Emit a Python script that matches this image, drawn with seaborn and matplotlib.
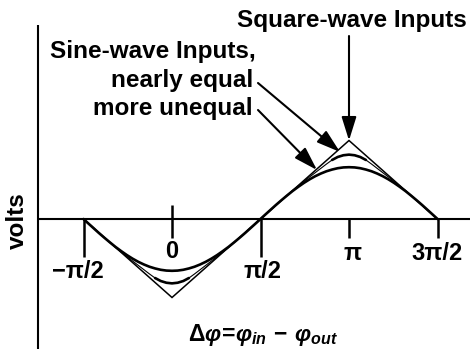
import numpy as np
import pandas as pd
import matplotlib
matplotlib.use("Agg")
import matplotlib.pyplot as plt
import seaborn as sns

sns.set_theme(style="white")
plt.rcParams["font.family"] = ["Liberation Sans", "DejaVu Sans"]
plt.rcParams["mathtext.fontset"] = "custom"
plt.rcParams["mathtext.it"] = "Liberation Sans:italic:bold"
plt.rcParams["mathtext.rm"] = "Liberation Sans:bold"

PI = np.pi

# Phase-detector output vs. phase difference (volts normalised to square-wave peak)
tick_pos = [-PI / 2, 0.0, PI / 2, PI, 3 * PI / 2]
tick_labels = ["\u2212\u03c0/2", "0", "\u03c0/2", "\u03c0", "3\u03c0/2"]

square_x = [-PI / 2, 0.0, PI / 2, PI, 3 * PI / 2]
square_y = [0.0, -1.0, 0.0, 1.0, 0.0]

# half-cycle shape, measured from an extremum (offset u in rad) out to the zero crossing
half_u = [0.0, 0.1, 0.2, 0.3, 0.4, 0.5, 0.6, 0.7, 0.8, 0.9, 1.0, 1.1, 1.2, 1.3, 1.4, 1.5, PI / 2]
nearly_equal = [0.82, 0.812, 0.79, 0.752, 0.70, 0.645, 0.59, 0.535, 0.478, 0.42, 0.36,
                0.30, 0.238, 0.175, 0.11, 0.045, 0.0]
more_unequal = [0.66, 0.657, 0.647, 0.63, 0.608, 0.579, 0.545, 0.505, 0.46, 0.41, 0.357,
                0.299, 0.239, 0.177, 0.112, 0.047, 0.0]

# layout: pixel -> data mapping
W, H, DPI = 470, 349, 100
X_ORIGIN, Y_ORIGIN = 172.0, 219.0      # pixel position of (0, 0)
SX = 88.5 / (PI / 2)                    # px per rad
SY = 78.5                               # px per unit amplitude


def px(xp, yp):
    return (xp - X_ORIGIN) / SX, (Y_ORIGIN - yp) / SY


def full_wave(u, d):
    u = np.asarray(u)
    d = np.asarray(d)
    xs = np.concatenate([-u[::-1], u[1:], PI - u[::-1][1:], PI + u[1:]])
    ys = np.concatenate([-d[::-1], -d[1:], d[::-1][1:], d[1:]])
    return pd.DataFrame({"phase": xs, "volts": ys})


fig = plt.figure(figsize=(W / DPI, H / DPI), dpi=DPI)
ax = fig.add_axes([0, 0, 1, 1])
x0, y1 = px(0, 0)
x1, y0 = px(W, H)

K = "black"

# axes
ax.plot([px(38, 0)[0], x1], [0, 0], color=K, lw=1.5, solid_capstyle="butt")
ax.plot([px(38, 0)[0]] * 2, [px(0, 25)[1], y0], color=K, lw=1.5, solid_capstyle="butt")

# ticks
tick_ext = {0: (px(0, 257)[1], 0.0), 1: (px(0, 238)[1], px(0, 205)[1]),
            2: (px(0, 257)[1], 0.0), 3: (px(0, 238)[1], 0.0), 4: (px(0, 238)[1], 0.0)}
for i, xt in enumerate(tick_pos):
    lo, hi = tick_ext[i]
    ax.plot([xt, xt], [lo, hi], color=K, lw=1.8, solid_capstyle="butt")

label_y = [272, 252, 272, 253, 253]
label_dx = [-6, 0, 2, 4, 0]
for xt, lab, yp, dx in zip(tick_pos, tick_labels, label_y, label_dx):
    ax.text(xt + dx / SX, px(0, yp)[1], lab, ha="center", va="center",
            fontsize=17, fontweight="bold", color=K)

# curves
sq = pd.DataFrame({"phase": square_x, "volts": square_y})
sns.lineplot(data=sq, x="phase", y="volts", ax=ax, color=K, lw=1.1, sort=False,
             estimator=None, solid_joinstyle="miter")

ne = full_wave(half_u, nearly_equal)
sns.lineplot(data=ne, x="phase", y="volts", ax=ax, color=K, lw=0.8, sort=False, estimator=None)
for centre in (0.0, PI):
    arc = ne[np.abs(ne["phase"] - centre) <= 0.37]
    sns.lineplot(data=arc, x="phase", y="volts", ax=ax, color=K, lw=1.9, sort=False,
                 estimator=None, solid_capstyle="round")

mu = full_wave(half_u, more_unequal)
sns.lineplot(data=mu, x="phase", y="volts", ax=ax, color=K, lw=1.9, sort=False, estimator=None)

ax.set_xlim(x0, x1)
ax.set_ylim(y0, y1)
ax.axis("off")

# annotations
txt = dict(fontsize=17.5, fontweight="bold", color=K)
ax.text(*px(352, 27), "Square-wave Inputs", ha="center", va="baseline", **txt)
ax.text(*px(256, 58), "Sine-wave Inputs,", ha="right", va="baseline", **txt)
ax.text(*px(253, 87), "nearly equal", ha="right", va="baseline", **txt)
ax.text(*px(253, 115), "more unequal", ha="right", va="baseline", **txt)

arrow = dict(arrowstyle="-|>,head_length=0.8,head_width=0.25", color=K, lw=1.5,
             shrinkA=0, shrinkB=0, mutation_scale=18)
ax.annotate("", xy=(PI, 1.0), xytext=(PI, px(0, 36)[1]), arrowprops=arrow)
ax.annotate("", xy=px(340, 152), xytext=px(258, 83), arrowprops=arrow)
ax.annotate("", xy=px(317, 170), xytext=px(258, 110), arrowprops=arrow)

ax.text(*px(17, 221), "volts", rotation=90, ha="center", va="center",
        fontsize=17.5, fontweight="bold", color=K)
ax.text(*px(263, 341), r"$Δφ\!=\!φ_{in}\,−\,φ_{out}$", ha="center", va="baseline",
        fontsize=16.5, color=K)

fig.savefig("out.png", dpi=DPI)
